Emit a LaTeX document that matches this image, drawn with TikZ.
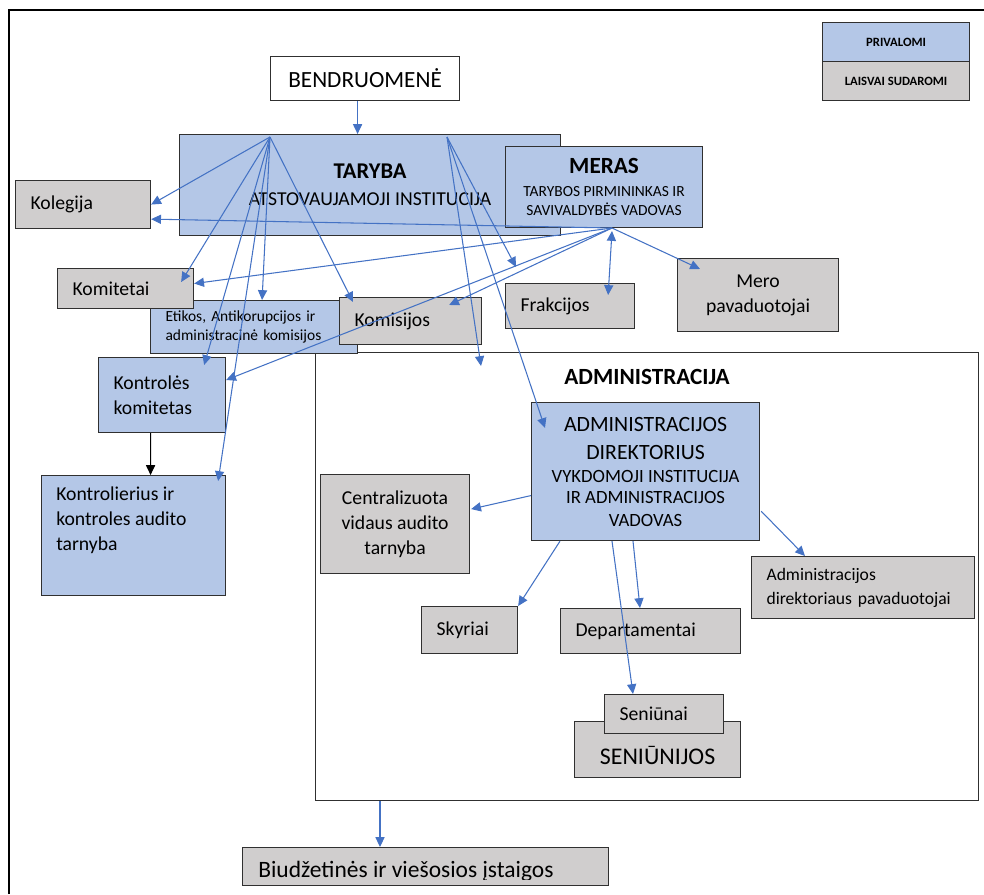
\documentclass[tikz,border=0pt]{standalone}
\usepackage{fontspec}
\setmainfont{Carlito}
\usepackage{tikz}
\usetikzlibrary{arrows.meta,calc}

\definecolor{privblue}{HTML}{B4C7E7}
\definecolor{laisvgray}{HTML}{D0CECE}
\definecolor{connblue}{HTML}{4472C4}
\definecolor{boxline}{HTML}{303030}
\newcommand\setfs[2]{\fontsize{#1}{#2}\selectfont}

\begin{document}
\begin{tikzpicture}[x=0.025cm,y=-0.025cm,
    >={Triangle[length=7pt,width=6.5pt]},
    orgbox/.style={draw=boxline, line width=0.8pt, anchor=north west,
        inner sep=0pt, align=center, font=\setfs{14}{17.7}},
    privbox/.style={orgbox, fill=privblue},
    laisvbox/.style={orgbox, fill=laisvgray},
    wh/.style 2 args={minimum width=#1*0.025cm, minimum height=#2*0.025cm},
    padl/.code={\pgfmathsetlengthmacro\padtw{#1*0.025cm}%
        \tikzset{align=left, inner xsep=0.375cm, text width=\padtw}},
    conn/.style={draw=connblue, line width=0.75pt, ->}]
  \useasboundingbox (0,0) rectangle (984,894);
  \draw[line width=1.2pt] (9,894) -- (9,10) -- (984,10);
  % legend
  \node[privbox,wh={147}{39},font=\setfs{9}{11}\bfseries,name=priv] at (822,22) {PRIVALOMI};
  \node[laisvbox,wh={147}{39},font=\setfs{9}{11}\bfseries,name=laisv] at (822,61) {LAISVAI SUDAROMI};
  % council level
  \node[orgbox,wh={189}{44},font=\setfs{16.5}{20},name=bend] at (270,56) {BENDRUOMENĖ};
  \node[privbox,wh={381}{101},font=\setfs{14}{16},name=taryba] at (179,134)
    {\setfs{16}{16}\bfseries TARYBA\\[3.1pt]ATSTOVAUJAMOJI INSTITUCIJA};
  \node[privbox,wh={197}{81},font=\setfs{11}{13.5},name=meras] at (505,146)
    {\setfs{16.5}{13.5}\bfseries MERAS\\[2.8pt]TARYBOS PIRMININKAS IR\\SAVIVALDYBĖS VADOVAS};
  \node[laisvbox,wh={135}{48},padl={105},name=kolegija] at (15,180) {Kolegija};
  \node[orgbox,fill=white,wh={663}{448},name=admin,
    label={[anchor=center,yshift=-0.625cm,font=\setfs{16.5}{20}\bfseries]north:ADMINISTRACIJA}] at (315,352) {};
  \node[privbox,wh={207}{53},padl={177},font=\setfs{11}{13.5},name=etikos] at (150,300)
    {Etikos, Antikorupcijos ir\\administracinė komisijos};
  \node[laisvbox,wh={136}{40},padl={106},name=komitetai] at (57,268) {Komitetai};
  \node[laisvbox,wh={142}{47},padl={112},name=komisijos] at (339,297) {Komisijos};
  \node[laisvbox,wh={129}{45},padl={99},name=frakcijos] at (505,283) {Frakcijos};
  \node[laisvbox,wh={161}{73},name=meropav] at (677,258) {Mero\\pavaduotojai};
  \node[privbox,wh={127}{75},padl={97},name=kontroles] at (98,357) {Kontrolės\\komitetas};
  \node[privbox,wh={184}{120},name=kontrolierius,
    label={[anchor=north west,align=left,inner sep=0pt,xshift=0.375cm,yshift=-0.3cm,
      font=\setfs{14}{17.7}]north west:Kontrolierius ir\\kontroles audito\\tarnyba}] at (41,475) {};
  % administration
  \node[privbox,wh={228}{138},font=\setfs{13.3}{15},name=direktorius] at (531,402)
    {\setfs{15.5}{15}ADMINISTRACIJOS\\[4.9pt]\setfs{15.5}{15}DIREKTORIUS\\[1.3pt]VYKDOMOJI INSTITUCIJA\\IR ADMINISTRACIJOS\\[1.3pt]VADOVAS};
  \node[laisvbox,wh={149}{99},name=centr] at (320,474) {Centralizuota\\vidaus audito\\tarnyba};
  \node[laisvbox,wh={221}{62},padl={193},font=\setfs{12.5}{17},name=admpav] at (751,556)
    {Administracijos\\direktoriaus pavaduotojai};
  \node[laisvbox,wh={96}{47},padl={66},name=skyriai] at (421,606) {Skyriai};
  \node[laisvbox,wh={180}{45},padl={150},name=depart] at (560,608) {Departamentai};
  \node[laisvbox,wh={166}{56},name=seniunijos,
    label={[anchor=base,yshift=0.35cm,font=\setfs{17}{20}]south:SENIŪNIJOS}] at (574,721) {};
  \node[laisvbox,wh={119}{39},padl={89},name=seniunai] at (604,694) {Seniūnai};
  \node[laisvbox,wh={366}{38},name=biudzet] at (242,847) {};
  \begin{scope}
    \clip (242,847) rectangle (608,879);
    \node[anchor=base west,inner sep=0pt,font=\setfs{16.7}{20},name=biudzettxt] at (258,877)
      {Biudžetinės ir viešosios įstaigos};
  \end{scope}
  % connectors
  \coordinate (tA) at (270,137);
  \coordinate (tB) at (447,137);
  \coordinate (mB) at (612,228);
  \draw[conn] ($(bend.south)+(-7.5,0)$) -- ($(taryba.north)+(-12.5,0)$);
  \draw[conn] (tA) -- (kolegija.east);
  \draw[conn] (tA) -- ($(komitetai.north east)+(-13,14)$);
  \draw[conn] (tA) -- ($(etikos.north)+(8,0)$);
  \draw[conn] (tA) -- ($(komisijos.north west)+(14,5)$);
  \draw[conn] (tA) -- ($(kontroles.north east)+(-22,8)$);
  \draw[conn] (tA) -- ($(kontrolierius.north east)+(-8,6)$);
  \draw[conn] (tB) -- ($(admin.north west)+(166,14)$);
  \draw[conn] (tB) -- ($(frakcijos.north west)+(11,-16)$);
  \draw[conn] (tB) -- ($(direktorius.north west)+(14,26)$);
  \draw[conn] (mB) -- ($(kolegija.south east)+(0,-10)$);
  \draw[conn] (mB) -- ($(komitetai.east)+(0,-5)$);
  \draw[conn] (mB) -- ($(komisijos.north east)+(-33,8)$);
  \draw[conn] (mB) -- ($(kontroles.north east)+(0,23)$);
  \draw[conn,<->] ($(mB)+(0,3)$) -- ($(frakcijos.north east)+(-27,12)$);
  \draw[conn] (mB) -- ($(meropav.north west)+(23,11)$);
  \draw[->,line width=0.75pt] ($(kontroles.south)+(-11.5,0)$) -- ($(kontrolierius.north)+(17,0)$);
  \draw[conn] ($(direktorius.west)+(0,24)$) -- ($(centr.east)+(1,-15)$);
  \draw[conn] ($(direktorius.south west)+(29,0)$) -- (skyriai.north east);
  \draw[conn] ($(direktorius.south west)+(81,0)$) -- ($(seniunai.north west)+(29,0)$);
  \draw[conn] ($(direktorius.south west)+(102,0)$) -- ($(depart.north west)+(80,0)$);
  \draw[conn] ($(direktorius.south east)+(1,-30)$) -- ($(admpav.north west)+(54,0)$);
  \draw[conn] ($(admin.south west)+(65,0)$) -- ($(biudzet.north west)+(138,0)$);
\end{tikzpicture}
\end{document}
